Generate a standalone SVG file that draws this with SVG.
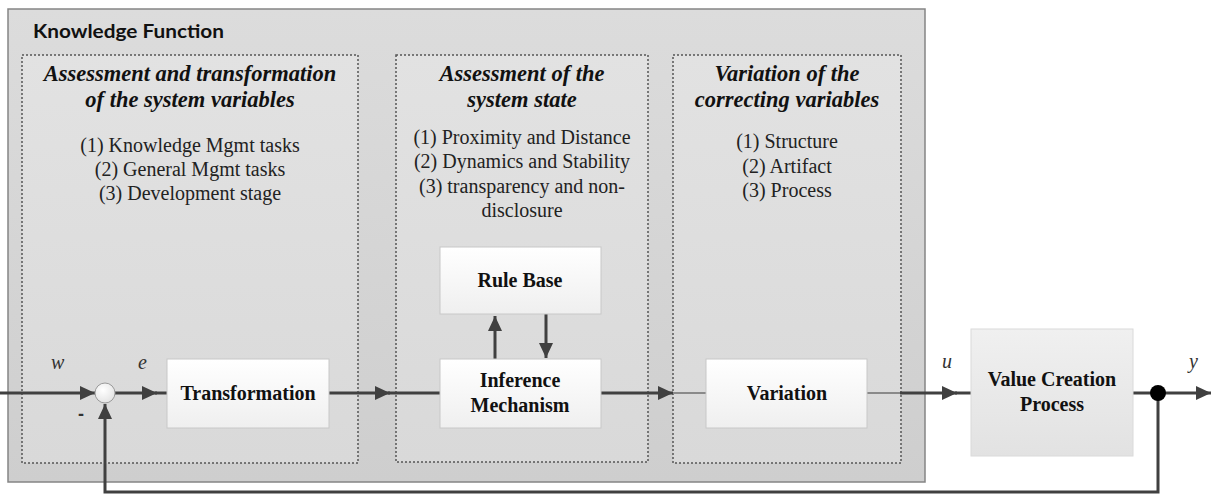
<svg xmlns="http://www.w3.org/2000/svg" width="1211" height="494" viewBox="0 0 1211 494">
<style>
.title{font-family:"Liberation Serif","Times New Roman",serif;font-weight:bold;font-style:italic;font-size:22.5px;fill:#111;text-anchor:middle}
.item{font-family:"Liberation Serif","Times New Roman",serif;font-size:20px;fill:#222;text-anchor:middle}
.node{font-family:"Liberation Serif","Times New Roman",serif;font-weight:bold;font-size:20px;fill:#111;text-anchor:middle}
.var{font-family:"Liberation Serif","Times New Roman",serif;font-style:italic;font-size:20px;fill:#333}
.dash{fill:url(#gDash);stroke:#555;stroke-width:1.5;stroke-dasharray:2 2}
.box{fill:url(#gNode);stroke:#c8c8c8;stroke-width:1}
.ln{fill:none;stroke:#404040;stroke-width:3}
.lt{fill:none;stroke:#8a8a8a;stroke-width:2}
</style>
<defs>
<linearGradient id="gOuter" x1="0" y1="0" x2="0" y2="1">
<stop offset="0" stop-color="#dcdcdc"/><stop offset="1" stop-color="#cecece"/>
</linearGradient>
<linearGradient id="gDash" x1="0" y1="0" x2="0" y2="1">
<stop offset="0" stop-color="#e2e2e2"/><stop offset="1" stop-color="#d9d9d9"/>
</linearGradient>
<linearGradient id="gNode" x1="0" y1="0" x2="0" y2="1">
<stop offset="0" stop-color="#ffffff"/><stop offset="1" stop-color="#efefef"/>
</linearGradient>
<linearGradient id="gVcp" x1="0" y1="0" x2="0" y2="1">
<stop offset="0" stop-color="#f0f0f0"/><stop offset="1" stop-color="#e2e2e2"/>
</linearGradient>
<radialGradient id="gCirc" cx="0.4" cy="0.35" r="0.7">
<stop offset="0" stop-color="#ffffff"/><stop offset="1" stop-color="#e2e2e2"/>
</radialGradient>
<marker id="ah" markerWidth="16" markerHeight="14" refX="15" refY="7" orient="auto" markerUnits="userSpaceOnUse">
<path d="M0,0 L15,7 L0,14 Z" fill="#404040"/>
</marker>
</defs>

<g id="knowledge-function">
<rect x="8" y="9" width="917" height="473" fill="url(#gOuter)" stroke="#858585" stroke-width="1.5"/>
<text x="33" y="38" font-family="Lato,'Liberation Sans',sans-serif" font-weight="bold" font-size="18" fill="#111" textLength="191" lengthAdjust="spacingAndGlyphs">Knowledge Function</text>
</g>

<g id="assessment-transformation">
<rect class="dash" x="22" y="55" width="336" height="408"/>
<text class="title" x="190" y="81">Assessment and transformation</text>
<text class="title" x="190" y="107">of the system variables</text>
<text class="item" x="190" y="152">(1) Knowledge Mgmt tasks</text>
<text class="item" x="190" y="176">(2) General Mgmt tasks</text>
<text class="item" x="190" y="200">(3) Development stage</text>
</g>

<g id="assessment-state">
<rect class="dash" x="396" y="55" width="252" height="407"/>
<text class="title" x="522" y="81">Assessment of the</text>
<text class="title" x="522" y="107">system state</text>
<text class="item" x="522" y="144">(1) Proximity and Distance</text>
<text class="item" x="522" y="168">(2) Dynamics and Stability</text>
<text class="item" x="522" y="193">(3) transparency and non-</text>
<text class="item" x="522" y="217">disclosure</text>
</g>

<g id="variation-correcting">
<rect class="dash" x="673" y="55" width="228" height="408"/>
<text class="title" x="787" y="81">Variation of the</text>
<text class="title" x="787" y="107">correcting variables</text>
<text class="item" x="787" y="148">(1) Structure</text>
<text class="item" x="787" y="173">(2) Artifact</text>
<text class="item" x="787" y="197">(3) Process</text>
</g>

<g id="connectors">
<line class="ln" x1="0" y1="393" x2="95" y2="393" marker-end="url(#ah)"/>
<line class="ln" x1="115" y1="393" x2="157" y2="393" marker-end="url(#ah)"/>
<line class="ln" x1="155" y1="393" x2="167" y2="393"/>
<line class="ln" x1="329" y1="393" x2="390" y2="393" marker-end="url(#ah)"/>
<line class="ln" x1="388" y1="393" x2="440" y2="393"/>
<line class="ln" x1="601" y1="393" x2="673" y2="393" marker-end="url(#ah)"/>
<line class="lt" x1="673" y1="393" x2="706" y2="393"/>
<line class="lt" x1="867" y1="393" x2="900" y2="393"/>
<line class="ln" x1="900" y1="393" x2="957" y2="393" marker-end="url(#ah)"/>
<line class="ln" x1="955" y1="393" x2="971" y2="393"/>
<line class="ln" x1="1133" y1="393" x2="1211" y2="393" marker-end="url(#ah)"/>
<polyline class="ln" points="1158,393 1158,492 105,492 105,404" marker-end="url(#ah)"/>
<line class="ln" x1="495" y1="359" x2="495" y2="316" marker-end="url(#ah)"/>
<line class="ln" x1="546" y1="314" x2="546" y2="358" marker-end="url(#ah)"/>
<circle cx="1158" cy="393" r="8" fill="#000"/>
</g>

<g id="sum">
<circle cx="105" cy="393" r="10" fill="url(#gCirc)" stroke="#9a9a9a" stroke-width="1"/>
</g>

<g id="transformation">
<rect class="box" x="167" y="359" width="162" height="69"/>
<text class="node" x="248" y="400">Transformation</text>
</g>

<g id="rule-base">
<rect class="box" x="440" y="247" width="161" height="67"/>
<text class="node" x="520" y="287">Rule Base</text>
</g>

<g id="inference">
<rect class="box" x="440" y="359" width="161" height="69"/>
<text class="node" x="520" y="387">Inference</text>
<text class="node" x="520" y="412">Mechanism</text>
</g>

<g id="variation">
<rect class="box" x="706" y="359" width="161" height="69"/>
<text class="node" x="787" y="400">Variation</text>
</g>

<g id="value-creation">
<rect x="971" y="329" width="162" height="127" fill="url(#gVcp)" stroke="#dadada" stroke-width="1"/>
<text class="node" x="1052" y="386">Value Creation</text>
<text class="node" x="1052" y="411">Process</text>
</g>

<g id="labels">
<text class="var" x="51" y="369">w</text>
<text class="var" x="138" y="369">e</text>
<text class="var" x="942" y="368">u</text>
<text class="var" x="1189" y="368">y</text>
<text x="78" y="420" font-family="'Liberation Sans',sans-serif" font-weight="bold" font-size="18" fill="#333">-</text>
</g>
</svg>
